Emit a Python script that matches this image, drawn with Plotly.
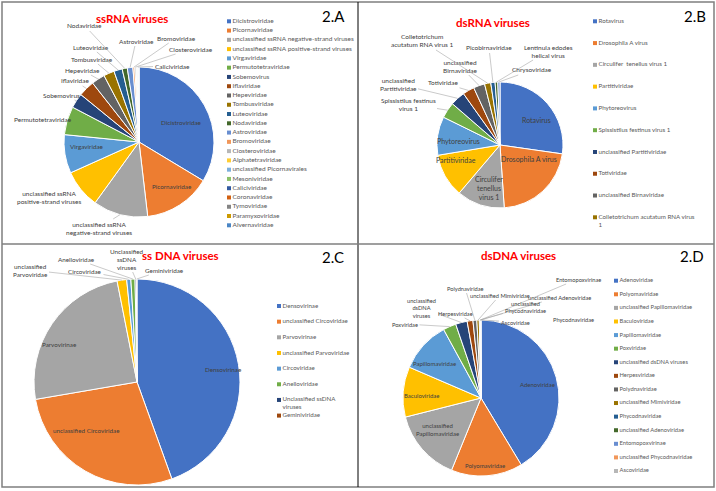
import math
import plotly.graph_objects as go

W, H = 716, 491

# ---------------- data ----------------
a_cats = ["Dicistroviridae", "Picornaviridae", "unclassified ssRNA negative-strand viruses",
          "unclassified ssRNA positive-strand viruses", "Virgaviridae", "Permutotetraviridae",
          "Sobemovirus", "Iflaviridae", "Hepeviridae", "Tombusviridae", "Luteoviridae",
          "Nodaviridae", "Astroviridae", "Bromoviridae", "Closteroviridae", "Alphatetraviridae",
          "unclassified Picornavirales", "Mesoniviridae", "Caliciviridae", "Coronaviridae",
          "Tymoviridae", "Paramyxoviridae", "Alvernaviridae"]
a_vals = [33.6, 14.5, 11.8, 8.3, 8.3, 6.1, 3.2, 3.5, 2.9, 2.3, 1.8, 1.1, 1.2, 0.4, 0.3,
          0.1, 0.1, 0.1, 0.1, 0.05, 0.05, 0.05, 0.05]
a_text = ["Dicistroviridae", "Picornaviridae", "unclassified ssRNA<br>negative-strand viruses",
          "unclassified ssRNA<br>positive-strand viruses", "Virgaviridae", "Permutotetraviridae",
          "Sobemovirus", "Iflaviridae", "Hepeviridae", "Tombusviridae", "Luteoviridae",
          "Nodaviridae", "Astroviridae", "Bromoviridae", "Closteroviridae", "",
          "", "", "Caliciviridae", "", "", "", ""]

b_cats = ["Rotavirus", "Drosophila A virus", "Circulifer tenellus virus 1", "Partitiviridae",
          "Phytoreovirus", "Spissistilus festinus virus 1", "unclassified Partitiviridae",
          "Totiviridae", "unclassified Birnaviridae", "Colletotrichum acutatum RNA virus 1",
          "Picobirnaviridae", "Lentinula edodes helical virus", "Chrysoviridae"]
b_vals = [27.3, 21.7, 12.3, 11.2, 9.9, 4.1, 3.8, 3.0, 2.9, 1.6, 1.1, 0.7, 0.55]
b_text = ["Rotavirus", "Drosophila A virus", "Circulifer<br>tenellus<br>virus 1", "Partitiviridae",
          "Phytoreovirus", "Spissistilus festinus<br>virus 1", "unclassified<br>Partitiviridae",
          "Totiviridae", "unclassified<br>Birnaviridae", "Colletotrichum<br>acutatum RNA virus 1",
          "Picobirnaviridae", "Lentinula edodes<br>helical virus", "Chrysoviridae"]
b_legend = ["Rotavirus", "Drosophila A virus", "Circulifer  tenellus virus 1", "Partitiviridae",
            "Phytoreovirus", "Spissistilus festinus virus 1", "unclassified Partitiviridae",
            "Totiviridae", "unclassified Birnaviridae", "Colletotrichum acutatum RNA virus<br>1"]

c_cats = ["Densovirinae", "unclassified Circoviridae", "Parvovirinae", "unclassified Parvoviridae",
          "Circoviridae", "Anelloviridae", "Unclassified ssDNA viruses", "Geminiviridae"]
c_vals = [44.5, 27.8, 24.6, 1.5, 0.65, 0.65, 0.2, 0.1]
c_text = ["Densovirinae", "unclassified Circoviridae", "Parvovirinae", "unclassified<br>Parvoviridae",
          "Circoviridae", "Anelloviridae", "Unclassified<br>ssDNA<br>viruses", "Geminiviridae"]
c_legend = ["Densovirinae", "unclassified Circoviridae", "Parvovirinae", "unclassified Parvoviridae",
            "Circoviridae", "Anelloviridae", "Unclassified ssDNA<br>viruses", "Geminiviridae"]

d_cats = ["Adenoviridae", "Polyomaviridae", "unclassified Papillomaviridae", "Baculoviridae",
          "Papillomaviridae", "Poxviridae", "unclassified dsDNA viruses", "Herpesviridae",
          "Polydnaviridae", "unclassified Mimiviridae", "Phycodnaviridae",
          "unclassified Adenoviridae", "Entomopoxvirinae", "unclassified Phycodnaviridae",
          "Ascoviridae"]
d_vals = [41.4, 14.8, 14.9, 10.4, 10.6, 2.7, 2.4, 1.2, 0.8, 0.5, 0.1, 0.1, 0.05, 0.05, 0.05]
d_text = ["Adenoviridae", "Polyomaviridae", "unclassified<br>Papillomaviridae", "Baculoviridae",
          "Papillomaviridae", "Poxviridae", "unclassified<br>dsDNA<br>viruses", "Herpesviridae",
          "Polydnaviridae", "unclassified Mimiviridae", "Phycodnaviridae",
          "unclassified Adenoviridae", "Entomopoxvirinae", "unclassified<br>Phycodnaviridae",
          "Ascoviridae"]

titles = ["ssRNA viruses", "dsRNA viruses", "ss DNA viruses", "dsDNA viruses"]
panel_tags = ["2.A", "2.B", "2.C", "2.D"]

# ---------------- layout / styles ----------------
PALETTE = ["#4472C4", "#ED7D31", "#A5A5A5", "#FFC000", "#5B9BD5", "#70AD47",
           "#264478", "#9E480E", "#636363", "#997300", "#255E91", "#43682B",
           "#698ED0", "#F1975A", "#B7B7B7", "#FFCD33", "#7CAFDD", "#8CC168",
           "#335AA1", "#D26012", "#848484", "#CC9A00", "#4A86C5", "#5A8A39"]
FONT = "Lato, Carlito, Calibri, 'Liberation Sans', sans-serif"
LBL = "#404040"
LEG = "#595959"

# pie geometry (centre x, centre y, radius) in pixels
PIE_GEOM = [(139, 142, 75), (500, 145, 63), (137, 382, 103), (481, 398, 78)]
# slices whose label sits inside the slice (no leader line)
INSIDE = [{0, 1, 4}, {0, 1, 2, 3, 4}, {0, 1, 2}, {0, 1, 2, 3, 4}]
IN_FONT = [6.3, 7.0, 6.3, 6.0]
OUT_FONT = [6.5, 6.5, 6.3, 5.7]
LEG_FONT = [6.5, 6.2, 6.2, 5.8]
# label placement (text centre in pixels, draw leader line)
LABEL_POS = [
    {0: (181, 123, False), 1: (172, 186, False), 4: (87, 146, False),
     2: (99, 228, True), 3: (49, 197, True), 5: (43, 120, True), 6: (61, 95, True),
     7: (75, 81, True), 8: (82, 70, True), 9: (92, 59, True), 10: (91, 47, True),
     11: (85, 26, True), 12: (136, 41, True), 13: (176, 38, True), 14: (191, 49, True),
     18: (172, 66, True)},
    {0: (536, 120, False), 1: (529, 159, False), 2: (489, 188, False), 3: (456, 160, False),
     4: (458, 141, False),
     5: (408, 104, True), 6: (398, 84, True), 7: (443, 83, True), 8: (460, 66, True),
     9: (422, 41, True), 10: (489, 48, True), 11: (548, 51, True), 12: (532, 70, True)},
    {0: (223, 369, False), 1: (86, 430, False), 2: (60, 344, False),
     3: (30, 270, True), 4: (85, 271, True), 5: (76, 259, True), 6: (127, 259, True),
     7: (164, 270, True)},
    {0: (537, 384, False), 1: (485, 465, False), 2: (437, 429, False), 3: (421, 395, False),
     4: (435, 363, False),
     5: (405, 324, True), 6: (422, 308, True), 7: (455, 313, True), 8: (465, 288, True),
     9: (500, 295, True), 10: (573, 319, False), 11: (559, 297, True), 12: (578, 279, True),
     13: (525, 307, True), 14: (515, 322, True)},
]
# legend boxes: x of marker, right edge, y of first and last entry (pixels)
LEGEND_BOX = [(229, 355, 21.3, 225.3), (595, 712, 21.3, 217.3),
              (279, 355, 306.0, 415.6), (616, 712, 280.7, 471.0)]
LEG_LINE_PX = [8.5, 9.0, 7.5, 7.5]   # line spacing of wrapped legend entries
TITLE_POS = [(132, 18), (493, 22), (180, 256), (518, 256)]
TAG_POS = [(333, 16), (695, 16), (333, 257), (692, 256)]


def px(x):
    return x / W


def py(y):
    return 1 - y / H


fig = go.Figure()
annotations = []

panels = [(a_vals, a_cats, a_text), (b_vals, b_cats, b_text),
          (c_vals, c_cats, c_text), (d_vals, d_cats, d_text)]

for k, ((vals, cats, text), (cx, cy, r)) in enumerate(zip(panels, PIE_GEOM)):
    fig.add_trace(go.Pie(
        values=vals, labels=cats, textinfo="none", sort=False,
        direction="clockwise", rotation=0,
        marker=dict(colors=PALETTE[:len(vals)], line=dict(color="white", width=1)),
        domain=dict(x=[px(cx - r), px(cx + r)], y=[py(cy + r), py(cy - r)]),
        showlegend=False, hoverinfo="label+percent",
    ))
    total = sum(vals)
    cum = 0.0
    for i, v in enumerate(vals):
        mid = 2 * math.pi * (cum + v / 2) / total
        cum += v
        if i not in LABEL_POS[k] or not text[i]:
            continue
        lx, ly, line = LABEL_POS[k][i]
        size = IN_FONT[k] if i in INSIDE[k] else OUT_FONT[k]
        font = dict(color=LBL, size=size, family=FONT)
        if line:
            ex = cx + r * math.sin(mid)
            ey = cy - r * math.cos(mid)
            annotations.append(dict(
                x=px(ex), y=py(ey), xref="paper", yref="paper",
                ax=lx - ex, ay=ly - ey, axref="pixel", ayref="pixel",
                text=text[i], showarrow=True, arrowhead=0, arrowwidth=0.6,
                arrowcolor="#A6A6A6", standoff=0, startstandoff=0,
                font=font, align="center"))
        else:
            annotations.append(dict(
                x=px(lx), y=py(ly), xref="paper", yref="paper", text=text[i],
                xanchor="center", yanchor="middle",
                showarrow=False, font=font, align="center"))

# legends drawn as square markers + text on hidden axes
legend_names = [a_cats, b_legend, c_legend, d_cats]
layout_axes = {}
for k, (names, (x0, x1, y0, y1)) in enumerate(zip(legend_names, LEGEND_BOX), start=1):
    n = len(names)
    xa = "x" if k == 1 else f"x{k}"
    ya = "y" if k == 1 else f"y{k}"
    slot = (y1 - y0) / (n - 1)
    # wrapped entries: keep first line level with the marker
    ty = [i + (nm.count("<br>") * LEG_LINE_PX[k - 1] / 2) / slot for i, nm in enumerate(names)]
    fig.add_trace(go.Scatter(
        x=[0] * n, y=list(range(n)), xaxis=xa, yaxis=ya, mode="markers",
        marker=dict(symbol="square", size=4, color=PALETTE[:n]),
        cliponaxis=False, showlegend=False, hoverinfo="skip",
    ))
    fig.add_trace(go.Scatter(
        x=[0] * n, y=ty, xaxis=xa, yaxis=ya,
        mode="markers+text", text=names, textposition="middle right",
        marker=dict(symbol="square", size=4, opacity=0),
        textfont=dict(size=LEG_FONT[k - 1], color=LEG, family=FONT),
        cliponaxis=False, showlegend=False, hoverinfo="skip",
    ))
    kx = "xaxis" if k == 1 else f"xaxis{k}"
    ky = "yaxis" if k == 1 else f"yaxis{k}"
    layout_axes[kx] = dict(domain=[px(x0), px(x1)], range=[0, 1], visible=False,
                           fixedrange=True, anchor=ya)
    # half a slot of padding on each side so wrapped entries stay in range
    layout_axes[ky] = dict(domain=[py(y1 + slot / 2), py(y0 - slot / 2)],
                           range=[n - 0.5, -0.5], visible=False,
                           fixedrange=True, anchor=xa)

for t, (x, y) in zip(titles, TITLE_POS):
    annotations.append(dict(text=f"<b>{t}</b>", x=px(x), y=py(y), xref="paper", yref="paper",
                            showarrow=False, font=dict(color="#FF0000", size=11.5, family=FONT),
                            xanchor="center", yanchor="middle"))
for t, (x, y) in zip(panel_tags, TAG_POS):
    annotations.append(dict(text=t, x=px(x), y=py(y), xref="paper", yref="paper",
                            showarrow=False, font=dict(color="#000000", size=15, family=FONT),
                            xanchor="center", yanchor="middle"))

shapes = [
    dict(type="rect", xref="paper", yref="paper", x0=px(2), x1=px(714), y0=py(487), y1=py(2),
         line=dict(color="#7F7F7F", width=1.5)),
    dict(type="line", xref="paper", yref="paper", x0=px(358), x1=px(358), y0=py(487), y1=py(2),
         line=dict(color="#000000", width=1)),
    dict(type="line", xref="paper", yref="paper", x0=px(2), x1=px(714), y0=py(244), y1=py(244),
         line=dict(color="#7F7F7F", width=1.5)),
]

fig.update_layout(
    width=W, height=H, margin=dict(l=0, r=0, t=0, b=0),
    paper_bgcolor="white", plot_bgcolor="white",
    font=dict(family=FONT, color=LBL),
    showlegend=False, annotations=annotations, shapes=shapes,
    **layout_axes,
)

fig.write_html("out.html", config={"displayModeBar": False},
               post_script="document.body.style.margin='0px';")
